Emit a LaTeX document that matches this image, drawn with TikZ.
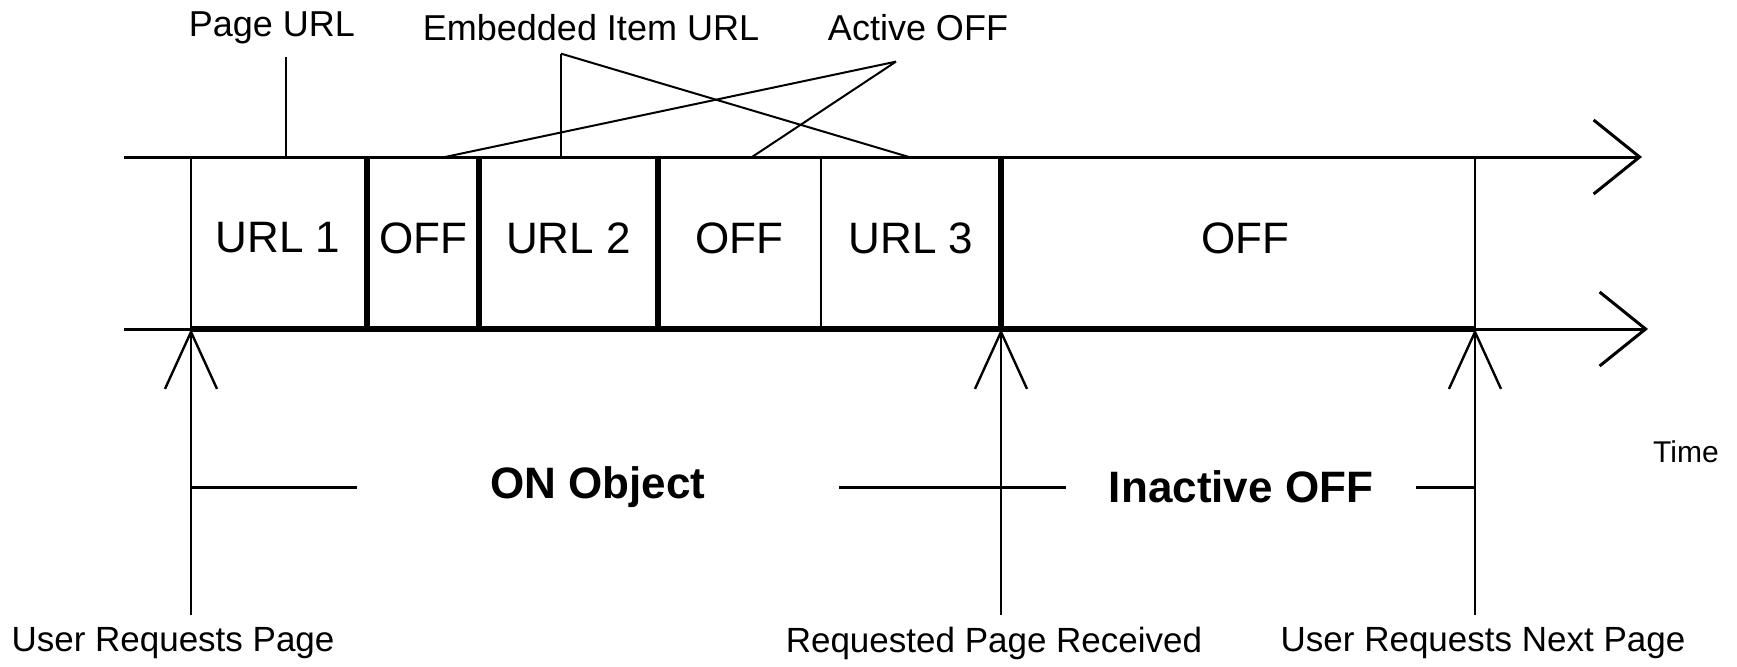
\documentclass[tikz,border=0pt]{standalone}
\usepackage{fontspec}
\setmainfont{Liberation Sans}
\usetikzlibrary{arrows.meta}
\tikzset{
  timeline/.style={line width=1.5pt},
  thinrule/.style={line width=1.2pt},
  leader/.style={line width=1pt},
  openhead/.style={-{Straight Barb[length=23pt,width=37pt]}},
  uphead/.style={-{Straight Barb[length=28.5pt,width=26pt]}},
  celltext/.style={font=\fontsize{22}{26}\selectfont, inner sep=0pt},
  toplbl/.style={font=\fontsize{18}{21}\selectfont, inner xsep=0pt, inner ysep=6pt},
  evlbl/.style={font=\fontsize{17.5}{21}\selectfont, inner sep=0pt},
  spanlbl/.style={font=\fontsize{22}{26}\selectfont\bfseries, inner sep=0pt},
}
\newcommand{\timeslot}[4]{%
  \node[celltext] (#1) at ({(#2+#3)/2},238) {#4};%
}
\newcommand{\eventmark}[2]{%
  \coordinate (#1) at (#2,615);
  \draw[thinrule, uphead] (#1) -- (#1 |- bl0);%
}

\begin{document}
\begin{tikzpicture}[x=0.5pt,y=-0.5pt]
  \useasboundingbox (0,0) rectangle (1737,666);
  % the two time axes
  \coordinate (tl0) at (124,157);
  \coordinate (tl1) at (1642,157);
  \coordinate (bl0) at (124,329);
  \coordinate (bl1) at (1648,329);
  \draw[timeline, openhead] (tl0) -- (tl1);
  \draw[timeline, openhead] (bl0) -- (bl1);
  \draw[line width=3pt] (191,329) -- (1475,329);
  \foreach \x/\w in {191/1.2pt, 367/3pt, 479/3pt, 658/3pt, 821/1.2pt, 1001/3pt, 1475/1.2pt}
    \draw[line width=\w] (\x,157) -- (\x,329);
  \timeslot{url1}{191}{365}{URL 1}
  \timeslot{off1}{367}{479}{OFF}
  \timeslot{url2}{479}{658}{URL 2}
  \timeslot{off2}{658}{821}{OFF}
  \timeslot{url3}{821}{1001}{URL 3}
  \timeslot{off3}{1001}{1489}{OFF}
  % labels above
  \node[toplbl] (pageurl) at (272,28) {Page URL};
  \node[toplbl] (embedurl) at (591,28) {Embedded Item URL};
  \node[toplbl] (activeoff) at (918,28) {Active OFF};
  \coordinate (tpu) at (286,157);
  \coordinate (tu2) at (561,157);
  \coordinate (tu3) at (909,157);
  \coordinate (ta1) at (445,157);
  \coordinate (ta2) at (752,157);
  \coordinate (tapex) at ([xshift=-11pt,yshift=-4pt]activeoff.south);
  \draw[leader] (pageurl.south -| tpu) -- (tpu);
  \draw[leader] (embedurl.south -| tu2) -- (tu2);
  \draw[leader] (embedurl.south -| tu2) -- (tu3);
  \draw[leader] (tapex) -- (ta1);
  \draw[leader] (tapex) -- (ta2);
  % events below
  \eventmark{ev1}{191}
  \eventmark{ev2}{1001}
  \eventmark{ev3}{1475}
  \node[evlbl] (req) at (173,643) {User Requests Page};
  \node[evlbl] (recv) at (994,643) {Requested Page Received};
  \node[evlbl] (reqnext) at (1483,643) {User Requests Next Page};
  \node[font=\fontsize{15}{18}\selectfont, inner sep=0pt] (time) at (1686,452) {Time};
  \node[spanlbl, minimum width=241pt] (onobj) at (598,487) {ON Object};
  \node[spanlbl, minimum width=175pt] (inact) at (1241,487) {Inactive OFF};
  \draw[timeline] (ev1 |- onobj) -- (onobj.west);
  \draw[timeline] (onobj.east) -- (inact.west);
  \draw[timeline] (inact.east) -- (ev3 |- inact);
\end{tikzpicture}
\end{document}
